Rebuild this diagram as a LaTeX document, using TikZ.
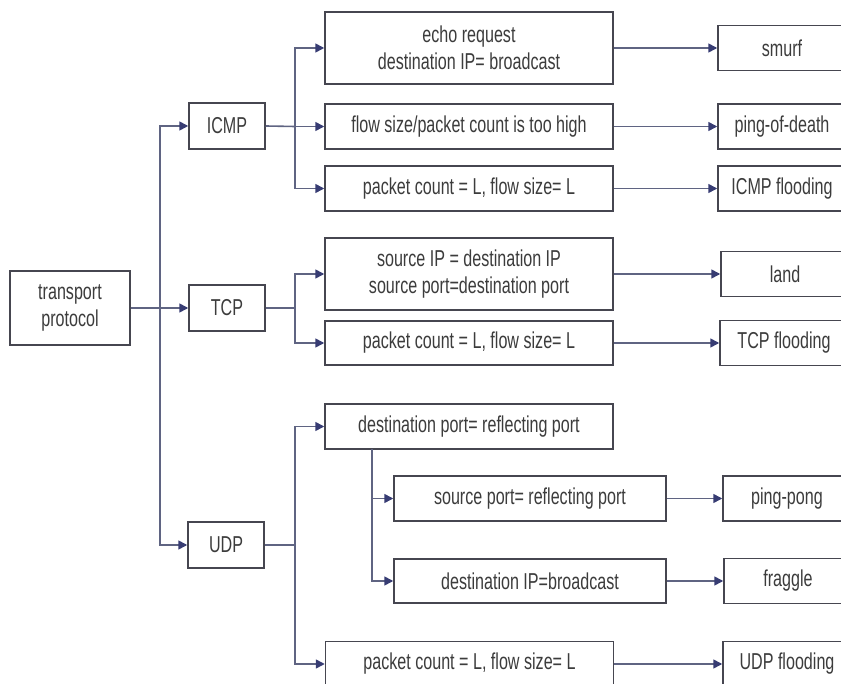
\documentclass[tikz,border=0pt]{standalone}
\usepackage{fontspec}
\setmainfont{Liberation Sans}[FakeStretch=0.70]
\usetikzlibrary{arrows.meta}
\definecolor{txt}{RGB}{60,60,60}
\definecolor{bord}{RGB}{70,70,80}
\definecolor{conn}{RGB}{95,100,130}
\definecolor{tipc}{RGB}{55,60,115}
\tikzset{
  box/.style={draw=bord, line width=1.5pt, fill=white, inner sep=0pt, align=center,
    text=txt, font=\fontsize{23}{27}\selectfont},
  wide/.style={box, minimum width=288pt, minimum height=45pt},
  res/.style={box, minimum width=128pt, minimum height=45pt},
  proto/.style={box, minimum width=76pt, minimum height=46pt},
  ln/.style={draw=conn, line width=1.6pt},
  arr/.style={ln, -{Triangle[length=9pt,width=9pt,color=tipc,fill=tipc]}}
}
\begin{document}
\begin{tikzpicture}[x=1pt,y=-1pt]
\useasboundingbox (0,0) rectangle (841,684);
% root
\node[box, minimum width=120pt, minimum height=74pt] (tp) at (70,308) {transport\\protocol};
% protocols
\node[proto] (icmp) at (227,126) {ICMP};
\node[proto] (tcp) at (227,308) {TCP};
\node[proto] (udp) at (226,545) {UDP};
% ICMP conditions
\node[wide, minimum height=72pt] (echo) at (469,48) {echo request\\destination IP= broadcast};
\node[wide] (flow) at (469,126.5) {flow size/packet count is too high};
\node[wide] (pci) at (469,188.5) {packet count = L, flow size= L};
% TCP conditions
\node[wide, minimum height=72pt] (sip) at (469,274) {source IP = destination IP\\source port=destination port};
\node[wide, minimum height=44pt] (pct) at (469,343) {packet count = L, flow size= L};
% UDP conditions
\node[wide] (dport) at (469,426.5) {destination port= reflecting port};
\node[box, minimum width=272pt, minimum height=45pt] (sport) at (530,498.5) {source port= reflecting port};
\node[box, minimum width=272pt, minimum height=44pt] (dip) at (530,581) {destination IP=broadcast};
\node[wide] (pcu) at (469.5,664) {packet count = L, flow size= L};
% results
\node[res] (smurf) at (782,48) {smurf};
\node[res] (pod) at (782,126.5) {ping-of-death};
\node[res] (icmpf) at (782,188.5) {ICMP flooding};
\node[res] (land) at (785,274) {land};
\node[res] (tcpf) at (784,343) {TCP flooding};
\node[res] (pingpong) at (787,498.5) {ping-pong};
\node[res] (fraggle) at (788,581) {fraggle};
\node[res] (udpf) at (787,664) {UDP flooding};
% junction coordinates
\coordinate (j0) at (160,308);
\coordinate (ji) at (295,126.5);
\coordinate (jt) at (295,308);
\coordinate (ju) at (295,545);
\coordinate (js) at (372,449);
% root to protocols
\draw[ln] (tp.east) -- (j0);
\draw[arr] (j0) |- (icmp.west);
\draw[arr] (j0) -- (tcp.west);
\draw[arr] (j0) |- (udp.west);
% ICMP branch
\draw[ln] (icmp.east) -- (ji);
\draw[arr] (ji) |- (echo.west);
\draw[arr] (ji) -- (flow.west);
\draw[arr] (ji) |- (pci.west);
% TCP branch
\draw[ln] (tcp.east) -- (jt);
\draw[arr] (jt) |- (sip.west);
\draw[arr] (jt) |- (pct.west);
% UDP branch
\draw[ln] (udp.east) -- (ju);
\draw[arr] (ju) |- (dport.west);
\draw[arr] (ju) |- (pcu.west);
\draw[arr] (js) |- (sport.west);
\draw[arr] (js) |- (dip.west);
% to results
\draw[arr] (echo.east) -- (smurf.west);
\draw[arr] (flow.east) -- (pod.west);
\draw[arr] (pci.east) -- (icmpf.west);
\draw[arr] (sip.east) -- (land.west);
\draw[arr] (pct.east) -- (tcpf.west);
\draw[arr] (sport.east) -- (pingpong.west);
\draw[arr] (dip.east) -- (fraggle.west);
\draw[arr] (pcu.east) -- (udpf.west);
\end{tikzpicture}
\end{document}
